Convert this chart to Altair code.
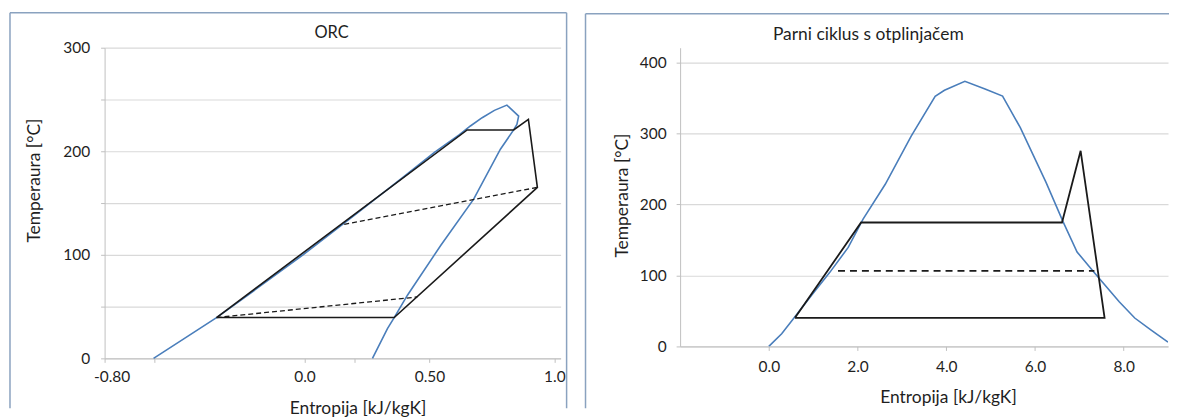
import altair as alt
import pandas as pd

# ---------------- ORC (left) ----------------
orc_title = ["ORC"]
orc_sat_s = [-0.604, -0.491, -0.352, -0.25, -0.006, 0.22, 0.40, 0.52, 0.62, 0.664, 0.711, 0.76, 0.81,
             0.857, 0.850, 0.837, 0.784, 0.677, 0.545, 0.412, 0.359, 0.332, 0.272]
orc_sat_t = [0.0, 17.7, 39.4, 57.0, 100.0, 142.0, 176.0, 199.0, 216.0, 224.4, 232.4, 239.5, 244.6,
             234.0, 226.0, 220.6, 202.0, 153.8, 109.0, 61.0, 39.4, 28.8, 0.0]
orc_cyc_s = [-0.352, 0.651, 0.837, 0.896, 0.932, 0.359, -0.352]
orc_cyc_t = [39.4, 220.6, 220.6, 230.8, 165.1, 39.4, 39.4]
orc_dash_seg = ["a", "a", "b", "b"]
orc_dash_s = [0.932, 0.159, 0.452, -0.352]
orc_dash_t = [165.1, 129.5, 59.3, 39.4]
orc_xticks = [-0.8, -0.6, 0.0, 0.2, 0.5, 1.0]
orc_yticks = [0, 50, 100, 150, 200, 250, 300]

# ---------------- Steam cycle (right) ----------------
st_title = ["Parni ciklus s otplinjačem"]
st_sat_s = [0.0, 0.29, 0.58, 0.96, 1.375, 1.79, 2.125, 2.625, 3.21, 3.75, 3.96, 4.42,
            4.875, 5.27, 5.67, 6.25, 6.63, 6.95, 7.35, 7.9, 8.25, 8.62, 9.0]
st_sat_t = [0.0, 17.8, 41.2, 71.6, 104.3, 139.4, 179.2, 228.3, 296.1, 352.3, 360.7, 373.3,
            362.6, 352.5, 308.0, 231.0, 176.0, 133.0, 103.0, 63.0, 40.0, 23.0, 6.0]
st_cyc_s = [0.59, 2.08, 6.61, 7.03, 7.57, 0.59]
st_cyc_t = [40.3, 174.5, 174.5, 275.5, 40.3, 40.3]
st_dash_s = [1.56, 7.34]
st_dash_t = [106.3, 106.3]
st_xticks = [0, 2, 4, 6, 8]
st_yticks = [0, 50, 100, 150, 200, 250, 300, 350, 400]

FONT = "Lato"
BLUE = "#4a7ebb"
BLACK = "#1a1a1a"
BORDER = "#8aa2bf"
GRID = "#d9d9d9"
AXISC = "#bfbfbf"
TEXT = "#1f1f1f"


def seq(s, t):
    return pd.DataFrame({"s": s, "t": t, "i": list(range(len(s)))})


one = pd.DataFrame({"k": [0]})

# ---------- left panel ----------
LW, LH = 458, 312
lx = alt.X("s:Q", scale=alt.Scale(domain=[-0.8, 1.025], nice=False, zero=False),
           axis=alt.Axis(values=orc_xticks, grid=False,
                         labelExpr="datum.value == -0.8 ? '-0.80' : datum.value == 0 ? '0.0' : datum.value == 0.5 ? '0.50' : datum.value == 1 ? '1.0' : ''",
                         labelOffset={"condition": {"test": "datum.value == -0.8", "value": 7}, "value": 0},
                         labelFlush=False, labelPadding=7, tickSize=4,
                         title="Entropija [kJ/kgK]", titleX=254, titleY=50, titleBaseline="middle"))
ly = alt.Y("t:Q", scale=alt.Scale(domain=[0, 300], nice=False),
           axis=alt.Axis(values=orc_yticks, grid=True,
                         labelExpr="datum.value % 100 == 0 ? datum.label : ''",
                         labelPadding=11, tickSize=4,
                         title="Temperaura [°C]", titleX=-70, titleY=133, titleAngle=270,
                         titleBaseline="middle", titleAlign="center"))

l_sat = alt.Chart(seq(orc_sat_s, orc_sat_t)).mark_line(color=BLUE, strokeWidth=1.6).encode(
    x=lx, y=ly, order="i:Q")
l_cyc = alt.Chart(seq(orc_cyc_s, orc_cyc_t)).mark_line(color=BLACK, strokeWidth=1.6).encode(
    x="s:Q", y="t:Q", order="i:Q")
l_dash = alt.Chart(pd.DataFrame({"seg": orc_dash_seg, "s": orc_dash_s, "t": orc_dash_t})).mark_line(
    color=BLACK, strokeWidth=1.3, strokeDash=[5, 3]).encode(x="s:Q", y="t:Q", detail="seg:N")
l_b_top = alt.Chart(one).mark_rule(color=BORDER, strokeWidth=1.5).encode(
    x=alt.value(-95), x2=alt.value(464), y=alt.value(-35))
l_b_left = alt.Chart(one).mark_rule(color=BORDER, strokeWidth=1.5).encode(
    x=alt.value(-95), y=alt.value(-35), y2=alt.value(362))
l_b_right = alt.Chart(one).mark_rule(color=BORDER, strokeWidth=1.5).encode(
    x=alt.value(464), y=alt.value(-35), y2=alt.value(362))
l_title = alt.Chart(pd.DataFrame({"txt": orc_title})).mark_text(
    font=FONT, fontSize=16.5, color=TEXT, align="center", baseline="middle").encode(
    x=alt.value(228), y=alt.value(-15), text="txt:N")

left = alt.layer(l_sat, l_cyc, l_dash, l_b_top, l_b_left, l_b_right, l_title).properties(
    width=LW, height=LH)

# ---------- right panel ----------
RW, RH = 490, 300
rx = alt.X("s:Q", scale=alt.Scale(domain=[-2, 9.0], nice=False, zero=False),
           axis=alt.Axis(values=st_xticks, grid=False, format=".1f",
                         labelFlush=False, labelPadding=9, tickSize=4,
                         title="Entropija [kJ/kgK]", titleX=269, titleY=51, titleBaseline="middle"))
ry = alt.Y("t:Q", scale=alt.Scale(domain=[0, 420.6], nice=False),
           axis=alt.Axis(values=st_yticks, grid=True,
                         labelExpr="datum.value % 100 == 0 ? datum.label : ''",
                         labelPadding=10, tickSize=4,
                         title="Temperaura [°C]", titleX=-58, titleY=148, titleAngle=270,
                         titleBaseline="middle", titleAlign="center"))

r_sat = alt.Chart(seq(st_sat_s, st_sat_t)).mark_line(color=BLUE, strokeWidth=1.6, clip=True).encode(
    x=rx, y=ry, order="i:Q")
r_cyc = alt.Chart(seq(st_cyc_s, st_cyc_t)).mark_line(color=BLACK, strokeWidth=1.8).encode(
    x="s:Q", y="t:Q", order="i:Q")
r_dash = alt.Chart(seq(st_dash_s, st_dash_t)).mark_line(
    color=BLACK, strokeWidth=1.8, strokeDash=[7, 5]).encode(x="s:Q", y="t:Q", order="i:Q")
r_b_top = alt.Chart(one).mark_rule(color=BORDER, strokeWidth=1.5).encode(
    x=alt.value(-95), x2=alt.value(491), y=alt.value(-34))
r_b_left = alt.Chart(one).mark_rule(color=BORDER, strokeWidth=1.5).encode(
    x=alt.value(-95), y=alt.value(-34), y2=alt.value(362))
r_title = alt.Chart(pd.DataFrame({"txt": st_title})).mark_text(
    font=FONT, fontSize=17.5, color=TEXT, align="center", baseline="middle").encode(
    x=alt.value(189), y=alt.value(-13), text="txt:N")

right = alt.layer(r_sat, r_cyc, r_dash, r_b_top, r_b_left, r_title).properties(
    width=RW, height=RH)

chart = alt.hconcat(left, right, spacing=15).properties(
    padding={"left": 0, "top": 2, "right": 0, "bottom": 0}
).configure(background="white").configure_view(stroke="transparent").configure_axis(
    labelFont=FONT, labelFontSize=15.5, labelColor=TEXT,
    titleFont=FONT, titleFontSize=17.5, titleColor=TEXT, titleFontWeight="normal",
    domainColor=AXISC, tickColor=AXISC, gridColor=GRID, gridWidth=1.2,
)

chart.save("out.html", embed_options={"renderer": "svg", "actions": False})
